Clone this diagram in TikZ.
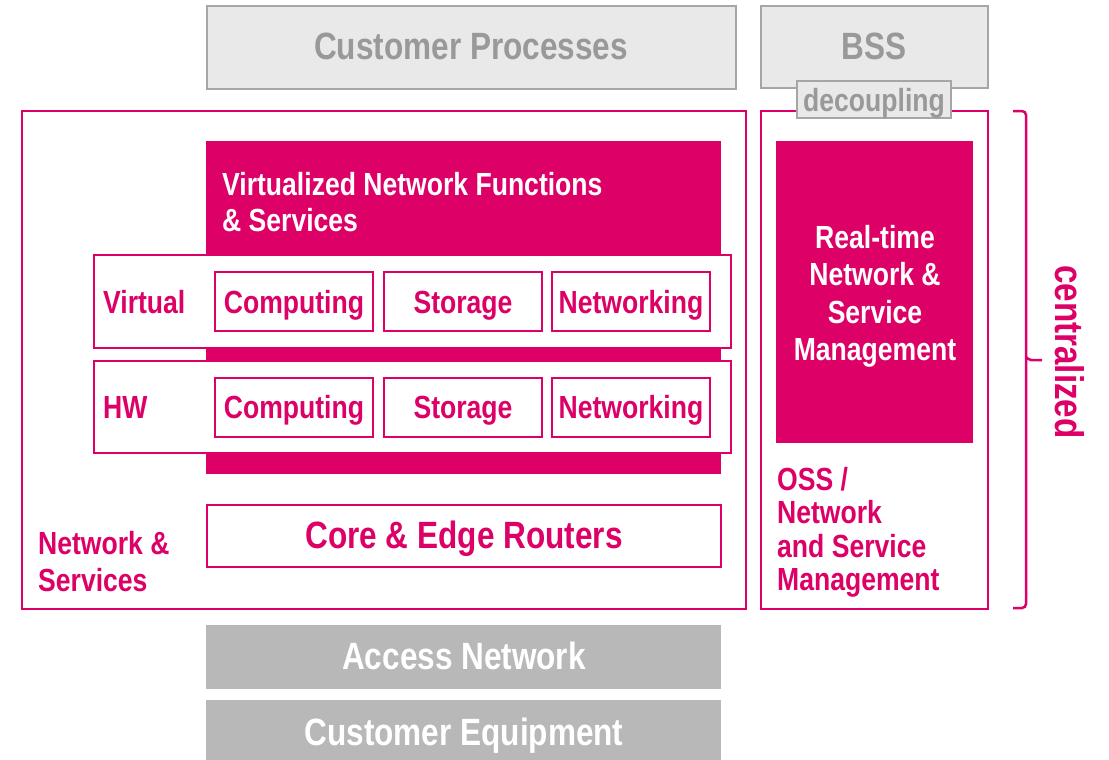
\documentclass[tikz,border=0pt]{standalone}
\usepackage{fontspec}
\setmainfont{Liberation Sans}[FakeStretch=0.83]
\definecolor{tmag}{HTML}{DC0067}
\definecolor{gtext}{HTML}{999999}
\definecolor{gfill}{HTML}{E9E9E9}
\definecolor{gline}{HTML}{A6A6A6}
\definecolor{gdark}{HTML}{B8B8B8}
\begin{document}
\begin{tikzpicture}[x=1pt,y=-1pt,
  magbox/.style={draw=tmag,line width=2.5pt,fill=white},
  magfill/.style={fill=tmag},
  graybox/.style={draw=gline,line width=2.5pt,fill=gfill},
  darkbox/.style={fill=gdark},
  txt/.style={inner sep=0pt,anchor=base,font=\bfseries\fontsize{32}{38}\selectfont},
  ltxt/.style={txt,anchor=base west},
  big/.style={font=\bfseries\fontsize{38}{44}\selectfont}]
\useasboundingbox (0,0) rectangle (1109,760);
% top gray boxes
\draw[graybox] (207,6) rectangle (736,89);
\node[txt,big,text=gtext] (cp) at (471,60) {Customer Processes};
\draw[graybox] (761,6) rectangle (988,88);
\node[txt,big,text=gtext] (bss) at (874,60) {BSS};
% main frames
\draw[magbox] (22,111) rectangle (746,609);
\draw[magbox] (761,111) rectangle (988,609);
\draw[graybox] (797,81) rectangle (951,118);
\node[txt,text=gtext] (dec) at (874,111) {decoupling};
% VNF
\fill[magfill] (206,141) rectangle (721,474);
\node[ltxt,text=white] (vnf1) at (222,195) {Virtualized Network Functions};
\node[ltxt,text=white] (vnf2) at (222,231) {\& Services};
% Virtual row
\draw[magbox] (94,255) rectangle (731,348);
\node[ltxt,text=tmag] (virt) at (103,313) {Virtual};
\draw[magbox] (215,272) rectangle (373,331);
\draw[magbox] (384,272) rectangle (542,331);
\draw[magbox] (552,272) rectangle (710,331);
\node[txt,text=tmag] (vc) at (294,313) {Computing};
\node[txt,text=tmag] (vs) at (463,313) {Storage};
\node[txt,text=tmag] (vn) at (631,313) {Networking};
% HW row
\draw[magbox] (94,361) rectangle (731,453);
\node[ltxt,text=tmag] (hw) at (103,418) {HW};
\draw[magbox] (215,378) rectangle (373,437);
\draw[magbox] (384,378) rectangle (542,437);
\draw[magbox] (552,378) rectangle (710,437);
\node[txt,text=tmag] (hc) at (294,418) {Computing};
\node[txt,text=tmag] (hs) at (463,418) {Storage};
\node[txt,text=tmag] (hn) at (631,418) {Networking};
% routers
\draw[magbox] (207,505) rectangle (721,567);
\node[txt,big,text=tmag] (cer) at (464,548) {Core \& Edge Routers};
\node[ltxt,text=tmag] (ns1) at (38,554) {Network \&};
\node[ltxt,text=tmag] (ns2) at (38,591) {Services};
% bottom gray
\fill[darkbox] (206,625) rectangle (721,689);
\node[txt,big,text=white] (acc) at (464,669) {Access Network};
\fill[darkbox] (206,700) rectangle (721,760);
\node[txt,big,text=white] (ce) at (464,745) {Customer Equipment};
% real-time
\fill[magfill] (776,141) rectangle (973,443);
\node[txt,text=white] (rt1) at (875,248) {Real-time};
\node[txt,text=white] (rt2) at (875,285) {Network \&};
\node[txt,text=white] (rt3) at (875,323) {Service};
\node[txt,text=white] (rt4) at (875,360) {Management};
\node[ltxt,text=tmag] (oss1) at (777,490) {OSS /};
\node[ltxt,text=tmag] (oss2) at (777,523) {Network};
\node[ltxt,text=tmag] (oss3) at (777,557) {and Service};
\node[ltxt,text=tmag] (oss4) at (777,590) {Management};
% bracket
\coordinate (bt) at (1013,111);
\coordinate (bb) at (1013,608);
\draw[tmag,line width=2.5pt,rounded corners=4pt] (bt) -- (1026,111) -- (1026,608) -- (bb);
\draw[tmag,line width=2.5pt,rounded corners=2pt] (1026,357) -- (1029,360) -- (1042,360);
\node[txt,text=tmag,anchor=center,rotate=-90,font=\bfseries\fontsize{40}{46}\selectfont] (cen) at (1070,352) {centralized};
\end{tikzpicture}
\end{document}
